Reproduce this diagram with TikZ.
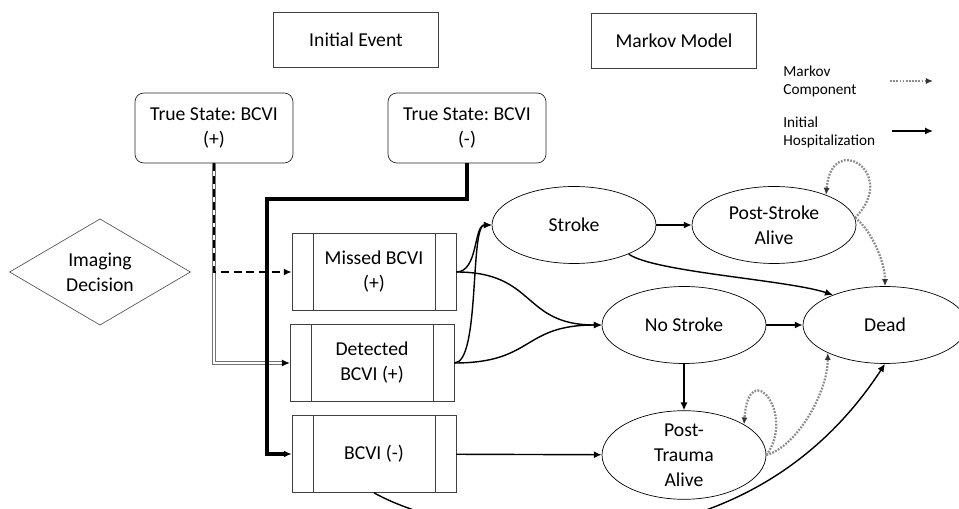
\documentclass[tikz,border=0pt]{standalone}
\usepackage{fontspec}
\setmainfont{Carlito}
\usetikzlibrary{arrows.meta,shapes.geometric}
\frenchspacing

\begin{document}
\begin{tikzpicture}[x=0.02cm,y=-0.02cm,
	every node/.style={font=\fontsize{11.2}{14.2}\selectfont, align=center},
	plainbox/.style={draw=black!75, rectangle, minimum width=3.3cm, minimum height=1.1cm},
	truebox/.style={draw=black!85, rounded corners=5pt, minimum width=3.16cm, minimum height=1.4cm},
	decision/.style={draw=black!65, diamond, minimum width=3.62cm, minimum height=1.6cm, inner sep=0pt},
	procbox/.style={draw=black!75, rectangle, minimum width=3.28cm, minimum height=1.54cm,
		path picture={
			\draw[black!75] ([xshift=0.42cm]path picture bounding box.north west) -- ([xshift=0.42cm]path picture bounding box.south west);
			\draw[black!75] ([xshift=-0.42cm]path picture bounding box.north east) -- ([xshift=-0.42cm]path picture bounding box.south east);}},
	state/.style={draw, ellipse, minimum width=3.28cm, minimum height=1.54cm, inner sep=0pt},
	legtext/.style={font=\fontsize{8.7}{10.3}\selectfont, align=left, anchor=west, inner sep=0pt},
	hosp/.style={-{Latex[length=4.5pt,width=4pt]}, line width=0.8pt},
	heavy/.style={-{Latex[length=4.5pt,width=4pt]}, line width=2pt},
	dashpath/.style={-{Latex[length=4.5pt,width=4pt]}, line width=1.4pt, dash pattern=on 4.5pt off 2.8pt},
	dbl/.style={-{Latex[length=4.5pt,width=4pt,color=black]}, draw=black!55, double=white, double distance=1pt, line width=0.45pt},
	markov/.style={-{Latex[length=4pt,width=3.5pt,color=black!80]}, draw=black!45, line width=1.3pt, dash pattern=on 1pt off 0.8pt}]
	%\draw[help lines, color=gray!30, dashed] (0,0) grid[step=50] (959,509);
	\useasboundingbox (0,0) rectangle (959,509);
	\node[plainbox] (initev) at (356,40) {Initial Event};
	\node[plainbox] (markovmodel) at (674,41) {Markov Model};
	\node[truebox] (truepos) at (214,128) {True State: BCVI\\(+)};
	\node[truebox] (trueneg) at (467,128) {True State: BCVI\\(-)};
	\node[decision] (imaging) at (100,272) {Imaging\\Decision};
	\node[procbox] (missed) at (374,272) {Missed BCVI\\(+)};
	\node[procbox] (detected) at (372,363) {Detected\\BCVI (+)};
	\node[procbox] (bcvineg) at (374,454) {BCVI (-)};
	\node[state] (stroke) at (574,225) {Stroke};
	\node[state] (poststroke) at (774,225) {Post-Stroke\\Alive};
	\node[state] (nostroke) at (684,325) {No Stroke};
	\node[state] (dead) at (885,325) {Dead};
	\node[state] (posttrauma) at (684,455) {Post-\\Trauma\\Alive};
	% legend
	\node[legtext] (legmarkov) at (783,81) {Markov\\Component};
	\node[legtext] (leghosp) at (783,132) {Initial\\Hospitalization};
	\coordinate (mkstart) at (890,81);
	\coordinate (mkend) at (933,81);
	\coordinate (hpstart) at (892,131);
	\coordinate (hpend) at (933,131);
	\draw[markov] (mkstart) -- (mkend);
	\draw[hosp] (hpstart) -- (hpend);
	% initial event
	\coordinate (negbend) at (267,199);
	\draw[dbl] (truepos.south) -- (truepos.south |- detected.west) -- (detected.west);
	\draw[dashpath] (truepos.south) |- (missed.west);
	\draw[heavy] (trueneg.south) |- (negbend) |- (bcvineg.west);
	\draw[hosp] (missed.east) .. controls +(22,0) and +(-18,0) .. (stroke.west);
	\draw[hosp] (detected.east) .. controls +(26,0) and +(-22,0) .. (stroke.west);
	\draw[hosp] (missed.east) .. controls +(80,0) and +(-80,0) .. (nostroke.west);
	\draw[hosp] (detected.east) .. controls +(80,0) and +(-80,0) .. (nostroke.west);
	\draw[hosp] (stroke) -- (poststroke);
	\draw[hosp] (nostroke) -- (dead);
	\draw[hosp] (nostroke) -- (posttrauma);
	\draw[hosp] (bcvineg) -- (posttrauma);
	\draw[hosp] (stroke.-28) .. controls +(25,18) and +(-45,-15) .. (dead.150);
	\draw[hosp] (bcvineg.south) .. controls +(80,45) and +(-150,230) .. (dead.south);
	% markov part
	\draw[markov] (poststroke.5) .. controls +(45,-45) and +(5,-65) .. (poststroke.30);
	\draw[markov] (poststroke.5) .. controls +(15,10) and +(0,-25) .. (dead.north);
	\draw[markov] (posttrauma.east) .. controls +(30,-40) and +(5,-70) .. (posttrauma.27);
	\draw[markov] (posttrauma.east) .. controls +(30,-8) and +(0,40) .. (dead.-154);
\end{tikzpicture}
\end{document}
